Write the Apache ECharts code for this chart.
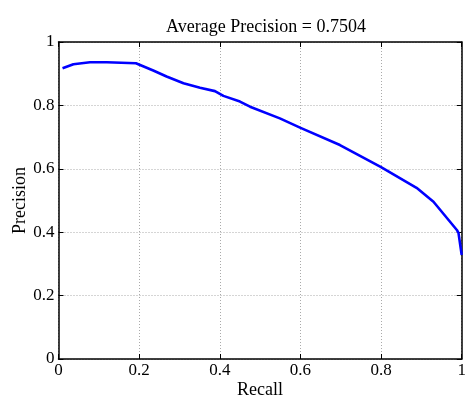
<!DOCTYPE html>
<html><head><meta charset="utf-8">
<script src="https://cdn.jsdelivr.net/npm/echarts@6/dist/echarts.min.js"></script>
<style>html,body{margin:0;padding:0;background:#fff}#c{width:465px;height:398px}</style>
</head><body><div id="c"></div>
<script>
const recall = [0.010,0.037,0.078,0.12,0.192,0.235,0.268,0.310,0.351,0.388,0.409,0.45,0.475,0.549,0.599,0.698,0.80,0.888,0.930,0.988,0.992,1.0];
const precision = [0.917,0.930,0.936,0.936,0.933,0.910,0.891,0.870,0.856,0.845,0.830,0.812,0.796,0.759,0.730,0.675,0.605,0.540,0.496,0.407,0.398,0.328];
const xTicks = [0,0.2,0.4,0.6,0.8,1];
const yTicks = [0,0.2,0.4,0.6,0.8,1];
const titleText = 'Average Precision = 0.7504';

const font = 'Liberation Serif';
const chart = echarts.init(document.getElementById('c'));
const fmt = v => (Math.abs(v) < 1e-9 ? '0' : (Math.abs(v-1) < 1e-9 ? '1' : String(+v.toFixed(1))));
const axisLine = {show:true, onZero:false, lineStyle:{color:'#000', width:1.5}};
const tick = {show:true, inside:true, length:5, lineStyle:{color:'#000', width:1}};
const grid = {color:'#aaa', type:[1,2], width:1};
chart.setOption({
  animation:false,
  title:{text:titleText, left:261, top:13, textAlign:'center',
    textStyle:{fontFamily:font, fontSize:18, fontWeight:'normal', color:'#000'}},
  grid:{left:58.5, right:3.3, top:42, bottom:39, containLabel:false, outerBoundsMode:'none'},
  xAxis:[{type:'value', min:0, max:1, interval:0.2, position:'bottom',
    name:'Recall', nameLocation:'middle', nameGap:22, nameMoveOverlap:false,
    nameTextStyle:{fontFamily:font, fontSize:18, color:'#000'},
    axisLine, axisTick:tick,
    axisLabel:{fontFamily:font, fontSize:17, color:'#000', margin:3, formatter:fmt},
    splitLine:{show:true, lineStyle:grid}},
   {type:'value', min:0, max:1, interval:0.2, position:'top',
    axisLine, axisTick:tick, axisLabel:{show:false}, splitLine:{show:false}}],
  yAxis:[{type:'value', min:0, max:1, interval:0.2, position:'left',
    name:'Precision', nameLocation:'middle', nameGap:29, nameMoveOverlap:false,
    nameTextStyle:{fontFamily:font, fontSize:18, color:'#000'},
    axisLine, axisTick:tick,
    axisLabel:{fontFamily:font, fontSize:17, color:'#000', margin:4, formatter:fmt},
    splitLine:{show:true, lineStyle:grid}},
   {type:'value', min:0, max:1, interval:0.2, position:'right',
    axisLine, axisTick:tick, axisLabel:{show:false}, splitLine:{show:false}}],
  series:[{type:'line', data:recall.map((r,i)=>[r,precision[i]]),
    showSymbol:false, smooth:false, lineStyle:{color:'#0000ff', width:2.6}, clip:false}]
});
</script></body></html>
